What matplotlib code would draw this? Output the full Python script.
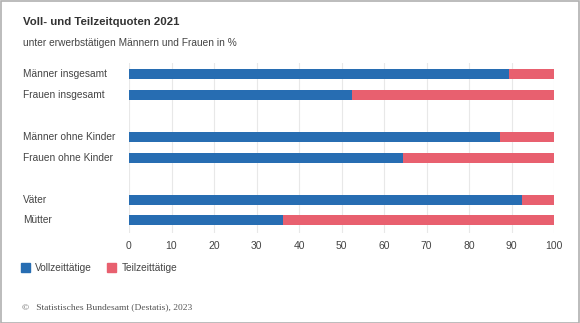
import matplotlib
matplotlib.use("Agg")
import matplotlib.pyplot as plt
from matplotlib.patches import Patch, Rectangle
from matplotlib.transforms import blended_transform_factory

plt.rcParams["font.family"] = ["Liberation Sans", "DejaVu Sans"]

# data
categories = ["Männer insgesamt", "Frauen insgesamt",
              "Männer ohne Kinder", "Frauen ohne Kinder",
              "Väter", "Mütter"]
slots = [0, 1, 3, 4, 6, 7]          # empty slot between the groups
vollzeit = [89.3, 52.5, 87.3, 64.4, 92.5, 36.2]
teilzeit = [10.7, 47.5, 12.7, 35.6, 7.5, 63.8]
xticks = [0, 10, 20, 30, 40, 50, 60, 70, 80, 90, 100]

BLUE = "#276db2"
RED = "#e8606f"
TXT = "#444444"

W, H = 580, 323
fig = plt.figure(figsize=(W / 100, H / 100), dpi=100)
fig.patch.set_facecolor("white")

# axes placed in pixel terms
x0, x1 = 129, 554
y_top, y_bot = 63, 233
ax = fig.add_axes([x0 / W, 1 - y_bot / H, (x1 - x0) / W, (y_bot - y_top) / H])

ax.barh(slots, vollzeit, height=0.48, color=BLUE, zorder=3)
ax.barh(slots, teilzeit, left=vollzeit, height=0.48, color=RED, zorder=3)

ax.set_xlim(0, 100)
ax.set_ylim(7.6, -0.55)
ax.set_xticks(xticks)
ax.set_xticklabels([str(v) for v in xticks], fontsize=7.5, color=TXT)
ax.tick_params(axis="x", length=0, pad=6)
ax.set_yticks([])
ax.grid(axis="x", color="#e8e8e8", lw=0.8, zorder=0)
for s in ax.spines.values():
    s.set_visible(False)

# category labels, left aligned at the figure margin
tr = blended_transform_factory(fig.transFigure, ax.transData)
for cat, y in zip(categories, slots):
    ax.text(23 / W, y, cat, transform=tr, ha="left", va="center",
            fontsize=7.3, color=TXT)

# title block
fig.text(23 / W, 1 - 22 / H, "Voll- und Teilzeitquoten 2021", fontsize=8.2,
         fontweight="bold", color="#333333", va="center")
fig.text(23 / W, 1 - 43 / H, "unter erwerbstätigen Männern und Frauen in %",
         fontsize=7.3, color=TXT, va="center")

# legend
handles = [Patch(color=BLUE, label="Vollzeittätige"),
           Patch(color=RED, label="Teilzeittätige")]
fig.legend(handles=handles, loc="center left",
           bbox_to_anchor=(12 / W, 1 - 268 / H), ncol=2, frameon=False,
           fontsize=7.3, handlelength=0.85, handleheight=0.85,
           handletextpad=0.55, columnspacing=1.5, labelcolor=TXT)

# source line
fig.text(22 / W, 1 - 307 / H, "©   Statistisches Bundesamt (Destatis), 2023",
         fontsize=6.8, family="Liberation Serif", color="#555555", va="center")

# thin frame round the graphic
fig.patches.append(Rectangle((0.5 / W, 0.5 / H), 1 - 2 / W, 1 - 1.5 / H,
                             transform=fig.transFigure, fill=False,
                             ec="#b0b0b0", lw=1.2))

fig.savefig("out.png", dpi=100)
plt.close(fig)
